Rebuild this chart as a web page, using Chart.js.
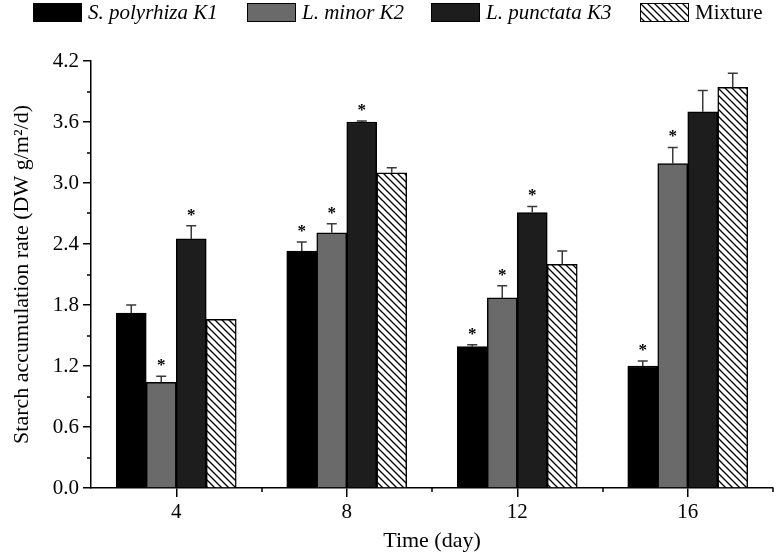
<!DOCTYPE html>
<html>
<head>
<meta charset="utf-8">
<script src="https://cdn.jsdelivr.net/npm/chart.js@4/dist/chart.umd.min.js"></script>
<style>
  body { margin: 0; background: #fff; }
  #wrap { position: relative; width: 776px; height: 554px; }
  canvas { position: absolute; left: 0; top: 0; }
  .lg { position: absolute; top: 0; height: 24px; line-height: 24px; font-family: "Liberation Serif"; font-size: 21px; white-space: nowrap; color: #000; }
  .bx { position: absolute; top: 3px; width: 47px; height: 17px; border: 1px solid #000; }
</style>
</head>
<body>
<div id="wrap">
  <canvas id="chart" width="776" height="554"></canvas>
  <div id="legend"></div>
</div>
<script>
// data
const days = [4, 8, 12, 16];
const seriesNames = ['S. polyrhiza K1', 'L. minor K2', 'L. punctata K3', 'Mixture'];
const k1 = [1.72, 2.33, 1.39, 1.20];
const k2 = [1.04, 2.51, 1.87, 3.19];
const k3 = [2.45, 3.60, 2.71, 3.70];
const mix = [1.66, 3.10, 2.20, 3.94];
const k1Err = [0.08, 0.09, 0.02, 0.05];
const k2Err = [0.06, 0.09, 0.12, 0.16];
const k3Err = [0.13, 0.01, 0.06, 0.21];
const mixErr = [0.00, 0.05, 0.13, 0.14];
const k1Sig = [false, true, true, true];
const k2Sig = [true, true, true, true];
const k3Sig = [true, true, true, false];
const mixSig = [false, false, false, false];
const yMajor = [0, 0.6, 1.2, 1.8, 2.4, 3.0, 3.6, 4.2];
const yMinor = [0.3, 0.9, 1.5, 2.1, 2.7, 3.3, 3.9];
const xMinor = [6, 10, 14, 18];

const errs = [k1Err, k2Err, k3Err, mixErr];
const sigs = [k1Sig, k2Sig, k3Sig, mixSig];

function hatchTile() {
  const s = 7;
  const c = document.createElement('canvas');
  c.width = c.height = s;
  const g = c.getContext('2d');
  g.fillStyle = '#fff';
  g.fillRect(0, 0, s, s);
  g.strokeStyle = '#000';
  g.lineWidth = 1.3;
  g.beginPath();
  g.moveTo(0, 0); g.lineTo(s, s);
  g.moveTo(-2, s - 2); g.lineTo(2, s + 2);
  g.moveTo(s - 2, -2); g.lineTo(s + 2, 2);
  g.stroke();
  return c;
}
const tile = hatchTile();
const ctx = document.getElementById('chart').getContext('2d');
const hatch = ctx.createPattern(tile, 'repeat');

const fills = ['#000000', '#6a6a6a', '#1d1d1d', hatch];

// html legend (species names in italics)
const legendX = [33, 247, 431, 640];
const legend = document.getElementById('legend');
seriesNames.forEach((name, i) => {
  const b = document.createElement('div');
  b.className = 'bx';
  b.style.left = legendX[i] + 'px';
  if (i === 3) b.style.background = 'url(' + tile.toDataURL() + ')';
  else b.style.background = fills[i];
  legend.appendChild(b);
  const t = document.createElement('div');
  t.className = 'lg';
  t.style.left = (legendX[i] + 55) + 'px';
  t.style.fontStyle = i === 3 ? 'normal' : 'italic';
  t.textContent = name;
  legend.appendChild(t);
});

const font = { family: 'Liberation Serif', size: 20 };
const clear = 'rgba(0,0,0,0)';
const isMajorY = v => yMajor.some(m => Math.abs(m - v) < 1e-6);

const extras = {
  id: 'extras',
  afterDatasetsDraw(chart) {
    const c = chart.ctx, ys = chart.scales.y, xs = chart.scales.x;
    c.save();
    chart.data.datasets.forEach((ds, i) => {
      chart.getDatasetMeta(i).data.forEach((bar, j) => {
        const v = ds.data[j].y, e = errs[i][j];
        const top = ys.getPixelForValue(v + e);
        if (e > 0) {
          c.strokeStyle = '#3a3a3a';
          c.lineWidth = 1.5;
          c.beginPath();
          c.moveTo(bar.x, bar.y);
          c.lineTo(bar.x, top);
          c.moveTo(bar.x - 5, top);
          c.lineTo(bar.x + 5, top);
          c.stroke();
        }
        if (sigs[i][j]) {
          c.fillStyle = '#000';
          c.font = 'bold 17px "Liberation Serif"';
          c.textAlign = 'center';
          c.textBaseline = 'alphabetic';
          c.fillText('*', bar.x, top - 6);
        }
      });
    });
    // minor ticks
    c.strokeStyle = '#000';
    c.lineWidth = 1.5;
    c.beginPath();
    yMinor.forEach(v => {
      const p = Math.round(ys.getPixelForValue(v));
      c.moveTo(xs.left - 4, p); c.lineTo(xs.left, p);
    });
    xMinor.forEach(v => {
      const p = Math.round(xs.getPixelForValue(v));
      c.moveTo(p, ys.bottom); c.lineTo(p, ys.bottom + 4);
    });
    c.stroke();
    c.restore();
  }
};

const series = [k1, k2, k3, mix];
new Chart(ctx, {
  type: 'bar',
  data: {
    datasets: series.map((vals, i) => ({
      label: seriesNames[i],
      data: vals.map((v, j) => ({ x: days[j], y: v })),
      backgroundColor: fills[i],
      borderColor: '#000',
      borderWidth: 1.5
    }))
  },
  options: {
    responsive: false,
    animation: false,
    barThickness: 30,
    layout: { padding: { top: 61, right: 3, left: 0, bottom: 0 } },
    plugins: { legend: { display: false }, tooltip: { enabled: false } },
    scales: {
      x: {
        type: 'linear',
        min: 2, max: 18,
        offset: false,
        afterBuildTicks: s => { s.ticks = [2, 4, 6, 8, 10, 12, 14, 16, 18].map(v => ({ value: v })); },
        afterFit: s => { s.height = 66; },
        ticks: {
          font: { family: 'Liberation Serif', size: 21 }, color: '#000', maxRotation: 0, autoSkip: false, padding: 3,
          callback: v => days.includes(v) ? String(v) : ''
        },
        grid: {
          offset: false, drawOnChartArea: false, tickLength: 9, lineWidth: 1.5,
          color: c => (c.tick && days.includes(c.tick.value)) ? '#000' : clear
        },
        border: { color: '#000', width: 1.5 },
        title: { display: true, text: 'Time (day)', color: '#000', font: { family: 'Liberation Serif', size: 22 }, padding: { top: 3, bottom: 0 } }
      },
      y: {
        min: 0, max: 4.2,
        afterBuildTicks: s => { s.ticks = yMajor.concat(yMinor).sort((a, b) => a - b).map(v => ({ value: v })); },
        afterFit: s => { s.width = 91; },
        ticks: {
          font: { family: 'Liberation Serif', size: 21 }, color: '#000', padding: 4,
          callback: v => isMajorY(v) ? v.toFixed(1) : ''
        },
        grid: {
          drawOnChartArea: false, tickLength: 8, lineWidth: 1.5,
          color: c => (c.tick && isMajorY(c.tick.value)) ? '#000' : clear
        },
        border: { color: '#000', width: 1.5 },
        title: { display: true, text: 'Starch accumulation rate (DW g/m²/d)', color: '#000', font: { family: 'Liberation Serif', size: 22 }, padding: { top: 9, bottom: 0 } }
      }
    }
  },
  plugins: [extras]
});
</script>
</body>
</html>
